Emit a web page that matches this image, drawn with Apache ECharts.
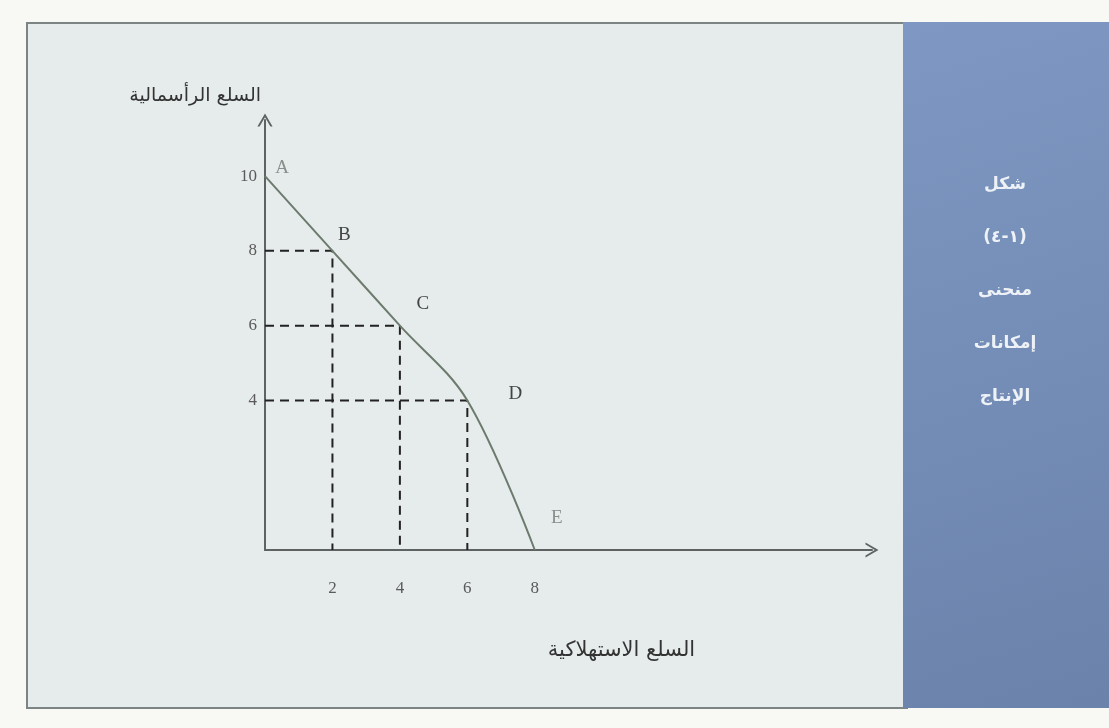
<!DOCTYPE html>
<html>
<head>
<meta charset="utf-8">
<script src="https://cdn.jsdelivr.net/npm/echarts@6/dist/echarts.min.js"></script>
<style>
html, body { margin: 0; padding: 0; background: #f8f9f4; }
#chartmain { width: 1109px; height: 728px; }
</style>
</head>
<body>
<div id="chartmain"></div>
<script>
// منحنى إمكانات الإنتاج
var pointNames = ['A', 'B', 'C', 'D', 'E'];
var consumerGoods = [0, 2, 4, 6, 8];      // السلع الاستهلاكية
var capitalGoods = [10, 8, 6, 4, 0];      // السلع الرأسمالية
var xTickLabels = [2, 4, 6, 8];
var yTickLabels = [4, 6, 8, 10];
var panelLines = ['شكل', '(١-٤)', 'منحنى', 'إمكانات', 'الإنتاج'];

var serif = 'Liberation Serif';
var arabic = 'DejaVu Sans';
var chevron = 'path://M0,12 L7,0 L14,12 L12,12 L7,3.4 L2,12 Z';

// label placement for each point (style only)
var labelStyle = {
  A: { offset: [17, -8], color: '#8a8f8c' },
  B: { offset: [12, -16], color: '#444' },
  C: { offset: [23, -22], color: '#444' },
  D: { offset: [48, -6], color: '#444' },
  E: { offset: [22, -32], color: '#8a8f8c' }
};

var curveData = pointNames.map(function (n, i) {
  var s = labelStyle[n];
  return {
    name: n,
    value: [consumerGoods[i], capitalGoods[i]],
    label: { show: true, formatter: n, position: 'inside', offset: s.offset, color: s.color }
  };
});

// dashed guide lines for B, C, D
var guideSeries = [];
for (var i = 1; i < pointNames.length - 1; i++) {
  guideSeries.push({
    type: 'line',
    name: 'guide-' + pointNames[i],
    data: [[0, capitalGoods[i]], [consumerGoods[i], capitalGoods[i]], [consumerGoods[i], 0]],
    symbol: 'none',
    silent: true,
    z: 1,
    lineStyle: { color: '#222', width: 2, type: [9, 6] }
  });
}

var panelText = panelLines.map(function (t, k) {
  return {
    type: 'text',
    z: -5,
    style: {
      text: t,
      x: 1005,
      y: 185 + k * 53,
      align: 'center',
      verticalAlign: 'middle',
      fill: '#eef2f7',
      font: 'bold 17px "' + arabic + '"'
    }
  };
});

var option = {
  animation: false,
  graphic: [
    {
      type: 'rect', z: -10,
      shape: { x: 27, y: 23, width: 880, height: 685 },
      style: { fill: '#e6eceb', stroke: '#7d8584', lineWidth: 2 }
    },
    {
      type: 'rect', z: -9,
      shape: { x: 903, y: 22, width: 206, height: 686 },
      style: {
        fill: new echarts.graphic.LinearGradient(0, 0, 1, 1, [
          { offset: 0, color: '#7e98c3' },
          { offset: 1, color: '#6b83ab' }
        ])
      }
    }
  ].concat(panelText),
  grid: { left: 265, right: 237, top: 120, bottom: 178, containLabel: false },
  xAxis: {
    type: 'value',
    min: 0,
    max: 18,
    name: 'السلع الاستهلاكية',
    nameLocation: 'middle',
    nameGap: 90,
    nameTextStyle: { fontFamily: arabic, fontSize: 21, color: '#333', padding: [0, 0, 0, 106] },
    axisLine: {
      show: true,
      lineStyle: { color: '#5e6362', width: 2 },
      symbol: ['none', chevron],
      symbolSize: [16, 13]
    },
    axisTick: { show: false },
    splitLine: { show: false },
    axisLabel: {
      customValues: xTickLabels,
      margin: 30,
      fontFamily: serif,
      fontSize: 17,
      color: '#5a5a5a'
    }
  },
  yAxis: {
    type: 'value',
    min: 0,
    max: 11.5,
    name: 'السلع الرأسمالية',
    nameLocation: 'end',
    nameGap: 24,
    nameTextStyle: { fontFamily: arabic, fontSize: 19, color: '#333', align: 'right', verticalAlign: 'middle', padding: [0, 4, 0, 0] },
    axisLine: {
      show: true,
      lineStyle: { color: '#5e6362', width: 2 },
      symbol: ['none', chevron],
      symbolSize: [16, 13]
    },
    axisTick: { show: false },
    splitLine: { show: false },
    axisLabel: {
      customValues: yTickLabels,
      margin: 8,
      fontFamily: serif,
      fontSize: 17,
      color: '#5a5a5a'
    }
  },
  series: guideSeries.concat([
    {
      type: 'line',
      name: 'PPF',
      data: curveData,
      smooth: 0.35,
      symbol: 'circle',
      symbolSize: 2,
      showSymbol: true,
      z: 3,
      itemStyle: { color: 'rgba(0,0,0,0)' },
      lineStyle: { color: '#6d7b6f', width: 2 },
      label: { fontFamily: serif, fontSize: 19 }
    }
  ])
};

var chartmain = echarts.init(document.getElementById('chartmain'));
chartmain.setOption(option);
</script>
</body>
</html>
